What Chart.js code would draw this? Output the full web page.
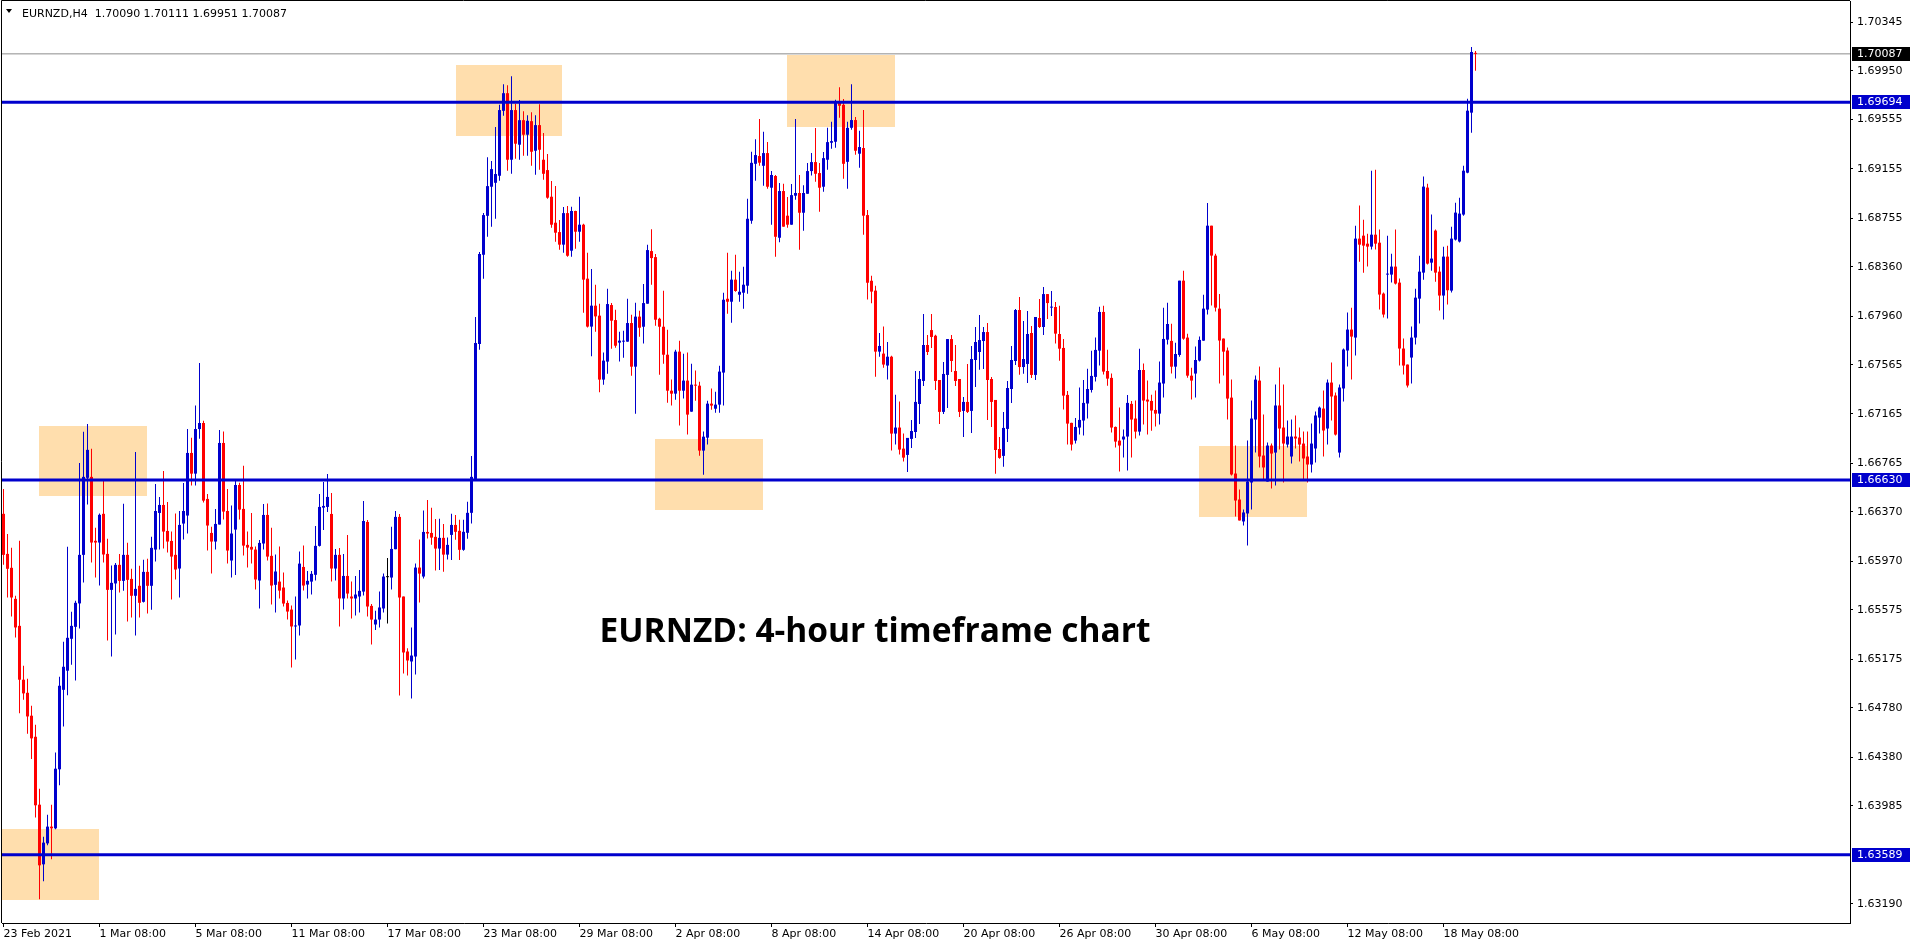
<!DOCTYPE html>
<html><head><meta charset="utf-8">
<script src="https://cdn.jsdelivr.net/npm/chart.js"></script>
<style>html,body{margin:0;padding:0;background:#fff;overflow:hidden}canvas{display:block}</style>
</head><body><canvas id="c" width="1916" height="946"></canvas>
<script>
const symbolTitle = 'EURNZD,H4';
const headerValues = ['1.70090','1.70111','1.69951','1.70087'];
const chartCaption = 'EURNZD: 4-hour timeframe chart';

const xTickIndex = [0,24,48,72,96,120,144,168,192,216,240,264,288,312,336,360];
const xTickLabels = ['23 Feb 2021','1 Mar 08:00','5 Mar 08:00','11 Mar 08:00','17 Mar 08:00','23 Mar 08:00','29 Mar 08:00','2 Apr 08:00','8 Apr 08:00','14 Apr 08:00','20 Apr 08:00','26 Apr 08:00','30 Apr 08:00','6 May 08:00','12 May 08:00','18 May 08:00'];
const yTickValues = [1.70345,1.69950,1.69555,1.69155,1.68755,1.68360,1.67960,1.67565,1.67165,1.66765,1.66370,1.65970,1.65575,1.65175,1.64780,1.64380,1.63985,1.63190];

const open = [
1.66355,1.66030,1.65917,1.65665,1.65446,1.65009,1.64903,1.64717,1.64546,1.63995,
1.63511,1.63681,1.63817,1.63803,1.64282,1.64927,1.65082,1.65341,1.65438,1.65628,
1.66022,1.66647,1.66655,1.66136,1.66122,1.66355,1.66030,1.65738,1.65790,1.65941,
1.65811,1.66022,1.65827,1.65690,1.65771,1.65641,1.65884,1.65771,1.66065,1.66362,
1.66427,1.66216,1.66135,1.66022,1.65911,1.66276,1.66341,1.66849,1.66681,1.67043,
1.67092,1.66476,1.66200,1.66130,1.66268,1.66930,1.66378,1.65976,1.66227,1.66589,
1.66395,1.66103,1.66087,1.66065,1.65814,1.66114,1.66346,1.66014,1.65779,1.65805,
1.65757,1.65632,1.65578,1.65441,1.65449,1.65924,1.65781,1.65805,1.65860,1.66095,
1.66405,1.66411,1.66354,1.65911,1.66022,1.65668,1.65851,1.65684,1.65668,1.65684,
1.65724,1.66289,1.65608,1.65457,1.65497,1.65587,1.65841,1.65838,1.66068,1.66330,
1.65684,1.65238,1.65157,1.65197,1.65919,1.65846,1.66208,1.66200,1.66168,1.66073,
1.66160,1.66024,1.66184,1.66265,1.66217,1.66063,1.66201,1.66363,1.66638,1.67733,
1.68457,1.68773,1.69009,1.69041,1.69098,1.69625,1.69768,1.69228,1.69631,1.69350,
1.69549,1.69431,1.69541,1.69301,1.69509,1.69228,1.69144,1.68928,1.68717,1.68641,
1.68539,1.68795,1.68490,1.68812,1.68644,1.68701,1.68263,1.67874,1.68044,1.67963,
1.67444,1.67590,1.68049,1.67927,1.67744,1.67752,1.67752,1.67903,1.67549,1.67955,
1.67873,1.68060,1.68487,1.68438,1.67938,1.67873,1.67646,1.67354,1.67330,1.67671,
1.67354,1.67436,1.67184,1.67403,1.67395,1.66868,1.66973,1.67249,1.67208,1.67241,
1.67501,1.68100,1.68076,1.68255,1.68133,1.68149,1.68206,1.68733,1.69195,1.69258,
1.69179,1.69282,1.69001,1.69096,1.68595,1.68974,1.68774,1.68701,1.68936,1.68958,
1.68798,1.68952,1.69136,1.69209,1.69120,1.69009,1.69228,1.69366,1.69374,1.69704,
1.69674,1.69211,1.69487,1.69550,1.69277,1.69323,1.68779,1.68246,1.68166,1.67671,
1.67655,1.67558,1.67630,1.67006,1.67055,1.66884,1.66833,1.66963,1.67019,1.67246,
1.67433,1.67725,1.67846,1.67800,1.67441,1.67182,1.67482,1.67773,1.67514,1.67449,
1.67190,1.67263,1.67190,1.67603,1.67668,1.67757,1.67830,1.67449,1.67279,1.66881,
1.66825,1.67044,1.67368,1.67595,1.68009,1.67546,1.67571,1.67822,1.67482,1.67944,
1.67871,1.68138,1.68028,1.68033,1.67814,1.67701,1.67320,1.67093,1.66949,1.67055,
1.67112,1.67250,1.67360,1.67466,1.67679,1.67993,1.67514,1.67458,1.67060,1.66949,
1.66958,1.66982,1.67247,1.67128,1.67022,1.67522,1.67282,1.67271,1.67198,1.67168,
1.67412,1.67768,1.67758,1.67549,1.67644,1.68247,1.67785,1.67476,1.67493,1.67598,
1.67760,1.68012,1.68693,1.68450,1.68020,1.67777,1.67680,1.67298,1.66682,1.66471,
1.66293,1.66358,1.66609,1.67120,1.67436,1.66828,1.66617,1.66909,1.66852,1.67234,
1.67055,1.66917,1.66820,1.66982,1.66974,1.66925,1.66820,1.66755,1.66885,1.67136,
1.67209,1.67047,1.67420,1.67315,1.66852,1.67372,1.67680,1.67850,1.67785,1.68588,
1.68612,1.68547,1.68523,1.68620,1.68555,1.68142,1.68296,1.68296,1.68361,1.68231,
1.67696,1.67566,1.67623,1.67785,1.68101,1.68312,1.69002,1.68393,1.68653,1.68320,
1.68126,1.68442,1.68166,1.68580,1.68564,1.68783,1.69123,1.69610,1.70090
];
const high = [
1.66557,1.66192,1.66079,1.65690,1.66136,1.65122,1.65017,1.64798,1.64644,1.64125,
1.63735,1.63914,1.63995,1.64419,1.65033,1.65317,1.66087,1.65560,1.65649,1.66768,
1.67020,1.67084,1.66882,1.66241,1.66357,1.66625,1.66152,1.65936,1.65957,1.66030,
1.66436,1.66120,1.65909,1.66857,1.65933,1.65982,1.65990,1.66168,1.66597,1.66492,
1.66703,1.66451,1.66211,1.66357,1.66378,1.66606,1.67043,1.66973,1.67233,1.67579,
1.67111,1.66516,1.66251,1.66395,1.67035,1.67022,1.66557,1.66422,1.66624,1.66608,
1.66746,1.66211,1.66362,1.66089,1.66143,1.66435,1.66438,1.66243,1.66024,1.66089,
1.65878,1.65651,1.65611,1.65684,1.66049,1.66097,1.65892,1.65892,1.66257,1.66516,
1.66614,1.66678,1.66524,1.66070,1.66078,1.66030,1.66184,1.65805,1.65851,1.65900,
1.66460,1.66305,1.65624,1.65568,1.65724,1.65870,1.65997,1.66251,1.66378,1.66354,
1.65684,1.65265,1.65432,1.65951,1.66146,1.66381,1.66468,1.66405,1.66314,1.66316,
1.66273,1.66162,1.66355,1.66346,1.66306,1.66306,1.66452,1.66825,1.67952,1.68479,
1.68795,1.69249,1.69217,1.69493,1.69674,1.69841,1.69833,1.69906,1.69682,1.69712,
1.69622,1.69590,1.69614,1.69590,1.69679,1.69444,1.69274,1.69055,1.69014,1.68739,
1.68844,1.68852,1.68847,1.68814,1.68928,1.68709,1.68474,1.68341,1.68214,1.68060,
1.67663,1.68182,1.68065,1.68011,1.67833,1.67841,1.68100,1.67971,1.68068,1.68003,
1.68219,1.68538,1.68665,1.68463,1.67946,1.68165,1.67849,1.67444,1.67687,1.67760,
1.67654,1.67663,1.67573,1.67517,1.67427,1.67022,1.67273,1.67371,1.67346,1.67557,
1.68149,1.68473,1.68328,1.68457,1.68319,1.68360,1.68911,1.69293,1.69395,1.69558,
1.69455,1.69371,1.69136,1.69104,1.69039,1.69033,1.68925,1.69031,1.69558,1.69104,
1.69022,1.69201,1.69282,1.69485,1.69201,1.69290,1.69487,1.69536,1.69714,1.69817,
1.69720,1.69536,1.69841,1.69574,1.69463,1.69631,1.68820,1.68287,1.68206,1.67822,
1.67874,1.67749,1.67638,1.67322,1.67266,1.67006,1.66971,1.67117,1.67514,1.67514,
1.67976,1.67806,1.67976,1.67809,1.67441,1.67587,1.67773,1.67806,1.67725,1.67449,
1.67303,1.67571,1.67717,1.67871,1.67968,1.67871,1.67903,1.67465,1.67279,1.66979,
1.67182,1.67433,1.67717,1.68017,1.68114,1.67919,1.68001,1.67879,1.67952,1.68098,
1.68195,1.68138,1.68163,1.68074,1.68044,1.67774,1.67352,1.67093,1.67133,1.67379,
1.67441,1.67533,1.67679,1.67785,1.68036,1.68044,1.67687,1.67493,1.67063,1.67217,
1.67039,1.67320,1.67271,1.67274,1.67695,1.67574,1.67436,1.67322,1.67355,1.67590,
1.68028,1.68068,1.67898,1.67744,1.68247,1.68328,1.67817,1.67541,1.67712,1.67793,
1.68133,1.68877,1.68693,1.68466,1.68139,1.67777,1.67704,1.67444,1.66909,1.66552,
1.66390,1.66950,1.67274,1.67477,1.67550,1.67161,1.66934,1.66925,1.67404,1.67542,
1.67404,1.67112,1.67120,1.67153,1.67055,1.67023,1.67023,1.67088,1.67185,1.67225,
1.67355,1.67444,1.67582,1.67339,1.67404,1.67696,1.67988,1.68028,1.68693,1.68856,
1.68742,1.68628,1.69139,1.69147,1.68661,1.68150,1.68612,1.68466,1.68661,1.68264,
1.67777,1.67566,1.67874,1.68182,1.68450,1.69091,1.69034,1.68783,1.68661,1.68361,
1.68523,1.68531,1.68685,1.68880,1.68920,1.69180,1.69723,1.70142,1.70111
];
const low = [
1.65941,1.65676,1.65522,1.65352,1.64736,1.64846,1.64571,1.64365,1.63892,1.63227,
1.63373,1.63665,1.63552,1.63795,1.64152,1.64630,1.64882,1.65130,1.65003,1.65425,
1.65798,1.66430,1.65960,1.65838,1.65774,1.65960,1.65328,1.65198,1.65376,1.65717,
1.65730,1.65482,1.65514,1.65368,1.65514,1.65636,1.65546,1.65576,1.65968,1.66065,
1.66073,1.66041,1.65659,1.65822,1.65676,1.66146,1.66195,1.66584,1.66584,1.66965,
1.66446,1.66057,1.65870,1.66065,1.66268,1.66308,1.65951,1.65838,1.65859,1.66308,
1.66016,1.65919,1.65951,1.65741,1.65586,1.66065,1.65976,1.65619,1.65554,1.65668,
1.65603,1.65497,1.65108,1.65173,1.65368,1.65732,1.65668,1.65700,1.65814,1.66090,
1.66224,1.66370,1.65805,1.65814,1.65440,1.65578,1.65668,1.65505,1.65530,1.65554,
1.65692,1.65522,1.65295,1.65413,1.65432,1.65554,1.65465,1.65741,1.66068,1.64881,
1.65059,1.65043,1.64857,1.65051,1.65635,1.65830,1.66154,1.66105,1.65895,1.65900,
1.65886,1.65984,1.65981,1.66144,1.65981,1.66055,1.66152,1.66276,1.66638,1.67687,
1.68263,1.68603,1.68684,1.68749,1.69057,1.69585,1.69139,1.69114,1.69236,1.69228,
1.69260,1.69260,1.69179,1.69106,1.69147,1.69066,1.68912,1.68676,1.68563,1.68498,
1.68474,1.68441,1.68441,1.68506,1.68563,1.67987,1.67866,1.67633,1.67833,1.67341,
1.67403,1.67492,1.67695,1.67703,1.67590,1.67622,1.67752,1.67476,1.67168,1.67792,
1.67736,1.68060,1.68214,1.67882,1.67484,1.67573,1.67257,1.67233,1.67281,1.67071,
1.67290,1.66998,1.67184,1.67273,1.66827,1.66673,1.66917,1.67200,1.67176,1.67176,
1.67233,1.67979,1.67906,1.68157,1.68076,1.68019,1.68141,1.68709,1.69058,1.69179,
1.69017,1.68993,1.68701,1.68441,1.68558,1.68685,1.68677,1.68701,1.68904,1.68498,
1.68652,1.68952,1.69100,1.69049,1.68806,1.68968,1.69147,1.69317,1.69325,1.69568,
1.69074,1.68993,1.69471,1.69268,1.69163,1.68620,1.68093,1.68063,1.67468,1.67630,
1.67541,1.67444,1.66868,1.66917,1.66836,1.66779,1.66695,1.66890,1.66971,1.67084,
1.67392,1.67644,1.67701,1.67360,1.67084,1.67165,1.67214,1.67506,1.67392,1.67141,
1.66979,1.67174,1.67011,1.67384,1.67525,1.67530,1.67117,1.67060,1.66681,1.66801,
1.66736,1.66938,1.67255,1.67563,1.67484,1.67492,1.67417,1.67457,1.67441,1.67863,
1.67806,1.67936,1.67960,1.67736,1.67598,1.67201,1.66917,1.66868,1.66925,1.66998,
1.66990,1.67128,1.67339,1.67428,1.67558,1.67485,1.67395,1.67014,1.66893,1.66698,
1.66811,1.66706,1.66811,1.66966,1.66990,1.67079,1.66998,1.67030,1.67063,1.67079,
1.67298,1.67728,1.67493,1.67452,1.67630,1.67768,1.67460,1.67282,1.67298,1.67590,
1.67760,1.67972,1.68045,1.67996,1.67412,1.67477,1.67120,1.66666,1.66334,1.66301,
1.66261,1.66098,1.66390,1.66852,1.66731,1.66634,1.66617,1.66561,1.66585,1.66877,
1.66609,1.66893,1.66763,1.66885,1.66780,1.66634,1.66609,1.66690,1.66771,1.67007,
1.66820,1.66917,1.67112,1.66990,1.66812,1.67266,1.67550,1.67444,1.67639,1.68401,
1.68312,1.68361,1.68499,1.68499,1.68012,1.67947,1.67939,1.68231,1.68215,1.67558,
1.67485,1.67380,1.67412,1.67728,1.67899,1.68255,1.68377,1.68328,1.68239,1.68004,
1.67931,1.68053,1.68150,1.68572,1.68556,1.68774,1.69118,1.69447,1.69951
];
const close = [
1.66022,1.65909,1.65676,1.65433,1.65009,1.64898,1.64711,1.64533,1.63990,1.63503,
1.63687,1.63817,1.63803,1.64287,1.64960,1.65114,1.65349,1.65446,1.65633,1.66022,
1.66655,1.66874,1.66122,1.66122,1.66347,1.66025,1.65738,1.65795,1.65941,1.65811,
1.66022,1.65819,1.65690,1.65746,1.65633,1.65884,1.65771,1.66079,1.66378,1.66427,
1.66211,1.66130,1.66008,1.65903,1.66265,1.66378,1.66849,1.66681,1.67043,1.67092,
1.66462,1.66260,1.66130,1.66273,1.66930,1.66373,1.66057,1.66195,1.66589,1.66389,
1.66097,1.66081,1.66065,1.65822,1.66119,1.66346,1.66008,1.65773,1.65887,1.65732,
1.65627,1.65562,1.65441,1.65449,1.65951,1.65773,1.65811,1.65868,1.66095,1.66411,
1.66419,1.66492,1.65911,1.66022,1.65668,1.65851,1.65708,1.65668,1.65700,1.65730,
1.66297,1.65603,1.65497,1.65497,1.65595,1.65846,1.65841,1.66070,1.66330,1.65676,
1.65230,1.65165,1.65205,1.65919,1.65870,1.66208,1.66195,1.66162,1.66073,1.66160,
1.66024,1.66103,1.66265,1.66209,1.66063,1.66209,1.66363,1.66655,1.67741,1.68463,
1.68779,1.69014,1.69152,1.69112,1.69631,1.69768,1.69228,1.69631,1.69358,1.69549,
1.69431,1.69544,1.69293,1.69509,1.69309,1.69114,1.68920,1.68701,1.68636,1.68539,
1.68795,1.68449,1.68812,1.68644,1.68701,1.68255,1.67874,1.68044,1.67957,1.67444,
1.67598,1.68057,1.67922,1.67719,1.67760,1.67760,1.67903,1.67549,1.67955,1.67865,
1.68065,1.68495,1.68430,1.67930,1.67873,1.67646,1.67354,1.67330,1.67671,1.67354,
1.67436,1.67160,1.67403,1.67395,1.66868,1.66981,1.67249,1.67233,1.67241,1.67509,
1.68092,1.68076,1.68255,1.68163,1.68157,1.68214,1.68749,1.69203,1.69266,1.69204,
1.69282,1.69009,1.69104,1.68603,1.68974,1.68685,1.68701,1.68941,1.68958,1.68798,
1.68958,1.69136,1.69209,1.69114,1.69001,1.69241,1.69371,1.69379,1.69704,1.69666,
1.69195,1.69487,1.69550,1.69301,1.69331,1.68774,1.68230,1.68158,1.67671,1.67717,
1.67566,1.67630,1.67006,1.67055,1.66876,1.66811,1.66971,1.67027,1.67263,1.67449,
1.67725,1.67668,1.67790,1.67433,1.67182,1.67490,1.67773,1.67595,1.67433,1.67182,
1.67263,1.67182,1.67611,1.67749,1.67765,1.67830,1.67441,1.67263,1.66873,1.66809,
1.67052,1.67376,1.67603,1.68009,1.67546,1.67611,1.67814,1.67482,1.67952,1.67871,
1.68138,1.68065,1.68033,1.67817,1.67695,1.67314,1.67087,1.66917,1.67060,1.67117,
1.67255,1.67368,1.67474,1.67685,1.67993,1.67509,1.67452,1.67055,1.66941,1.66909,
1.66982,1.67255,1.67120,1.67022,1.67522,1.67274,1.67266,1.67193,1.67168,1.67420,
1.67774,1.67895,1.67549,1.67652,1.68247,1.67776,1.67476,1.67436,1.67603,1.67766,
1.68020,1.68693,1.68450,1.68028,1.67761,1.67671,1.67290,1.66674,1.66463,1.66301,
1.66366,1.66617,1.67128,1.67444,1.66820,1.66731,1.66909,1.66844,1.67234,1.67047,
1.66925,1.66982,1.66982,1.66966,1.66917,1.66804,1.66755,1.66925,1.67153,1.67217,
1.67031,1.67420,1.67307,1.66998,1.67380,1.67688,1.67850,1.67793,1.68588,1.68539,
1.68531,1.68523,1.68620,1.68547,1.68134,1.67972,1.68304,1.68361,1.68223,1.67696,
1.67558,1.67396,1.67785,1.68109,1.68320,1.69010,1.68385,1.68426,1.68312,1.68126,
1.68442,1.68169,1.68588,1.68799,1.68791,1.69139,1.69626,1.70102,1.70087
];

const levelPrices = [1.69694, 1.66630, 1.63589];
const currentPrice = 1.70087;
// highlighted zones: bar-index range and price range
const zoneStart = [8.9, -0.4, 113.1, 195.9, 162.9, 298.9];
const zoneEnd   = [35.9, 23.9, 139.6, 222.9, 189.9, 325.9];
const zoneHigh  = [1.67068, 1.63800, 1.69996, 1.70077, 1.66963, 1.66906];
const zoneLow   = [1.66500, 1.63224, 1.69420, 1.69493, 1.66387, 1.66330];

const X_MIN = -0.375, X_MAX = 461.625;
const Y_MIN = 1.63035, Y_MAX = 1.70516;
const BLUE = '#0000CD', RED = '#FF0000';
const AXIS_FONT = {family: '"DejaVu Sans"', size: 11};

function candleColor(i) {
  if (close[i] > open[i]) return BLUE;
  if (close[i] < open[i]) return RED;
  return '#000000';
}

const bodyData = open.map((o, i) => ({x: i, y: [o, close[i]]}));
const wickData = open.map((o, i) => ({x: i, y: [low[i], high[i]]}));

const levelDatasets = levelPrices.map(p => ({
  type: 'line', data: [{x: X_MIN, y: p}, {x: X_MAX, y: p}],
  borderColor: BLUE, borderWidth: 3, pointRadius: 0, order: 0
}));

const deco = {
  id: 'deco',
  beforeDatasetsDraw(chart) {
    const {ctx, chartArea: a} = chart;
    const xs = chart.scales.x, ys = chart.scales.y;
    ctx.save();
    ctx.beginPath(); ctx.rect(a.left, a.top, a.right - a.left, a.bottom - a.top); ctx.clip();
    ctx.fillStyle = '#FFDEAD';
    for (let k = 0; k < zoneStart.length; k++) {
      const x0 = Math.round(xs.getPixelForValue(zoneStart[k]));
      const x1 = Math.round(xs.getPixelForValue(zoneEnd[k]));
      const y0 = Math.round(ys.getPixelForValue(zoneHigh[k]));
      const y1 = Math.round(ys.getPixelForValue(zoneLow[k]));
      ctx.fillRect(x0, y0, x1 - x0, y1 - y0);
    }
    ctx.restore();
  },
  afterDraw(chart) {
    const {ctx, chartArea: a} = chart;
    const ys = chart.scales.y;
    ctx.save();
    ctx.strokeStyle = '#000'; ctx.lineWidth = 1;
    ctx.beginPath();
    ctx.moveTo(a.left - 0.5, a.bottom); ctx.lineTo(a.left - 0.5, 0.5); ctx.lineTo(a.right, 0.5);
    ctx.stroke();
    ctx.font = '11px "DejaVu Sans"';
    ctx.textBaseline = 'middle'; ctx.textAlign = 'left';
    const tag = (p, bg) => {
      const y = Math.round(ys.getPixelForValue(p));
      ctx.fillStyle = bg;
      ctx.fillRect(a.right + 2, y - 7, 58, 14);
      ctx.fillStyle = '#fff';
      ctx.fillText(p.toFixed(5), a.right + 7, y + 0.5);
    };
    tag(currentPrice, '#000');
    levelPrices.forEach(p => tag(p, BLUE));
    ctx.fillStyle = '#000';
    ctx.beginPath(); ctx.moveTo(6, 9); ctx.lineTo(12, 9); ctx.lineTo(9, 13); ctx.closePath(); ctx.fill();
    ctx.textBaseline = 'alphabetic';
    ctx.fillText(symbolTitle + '  ' + headerValues.join(' '), 22, 17);
    ctx.font = 'bold 33.5px "Open Sans"';
    ctx.textAlign = 'center'; ctx.textBaseline = 'middle';
    ctx.fillText(chartCaption, 875, 632);
    ctx.restore();
  }
};

new Chart(document.getElementById('c'), {
  type: 'bar',
  data: {
    datasets: [
      ...levelDatasets,
      {type: 'line', data: [{x: X_MIN, y: currentPrice}, {x: X_MAX, y: currentPrice}],
       borderColor: '#8C8C8C', borderWidth: 1, pointRadius: 0, order: 3},
      {type: 'bar', data: bodyData, backgroundColor: c => candleColor(c.dataIndex),
       barThickness: 3, grouped: false, minBarLength: 1, borderWidth: 0, inflateAmount: 0, order: 1},
      {type: 'bar', data: wickData, backgroundColor: c => candleColor(c.dataIndex),
       barThickness: 1, grouped: false, borderWidth: 0, inflateAmount: 0, order: 2}
    ]
  },
  options: {
    responsive: false, animation: false, devicePixelRatio: 1,
    layout: {padding: {left: 2, top: 1, right: 0, bottom: 0}},
    plugins: {legend: {display: false}, tooltip: {enabled: false}},
    scales: {
      x: {
        type: 'linear', min: X_MIN, max: X_MAX, offset: false,
        grid: {drawOnChartArea: false, drawTicks: true, tickLength: 4, tickColor: '#000', offset: false},
        border: {display: true, color: '#000', width: 1},
        ticks: {autoSkip: false, maxRotation: 0, minRotation: 0, align: 'start', padding: 1,
                color: '#000', font: AXIS_FONT, callback: (v, i) => xTickLabels[i]},
        afterBuildTicks: s => { s.ticks = xTickIndex.map(v => ({value: v})); },
        afterFit: s => { s.height = 23; s.paddingLeft = 0; s.paddingRight = 0; }
      },
      y: {
        type: 'linear', position: 'right', min: Y_MIN, max: Y_MAX,
        grid: {drawOnChartArea: false, drawTicks: true, tickLength: 3, tickColor: '#000'},
        border: {display: true, color: '#000', width: 1},
        ticks: {autoSkip: false, padding: 4, color: '#000', font: AXIS_FONT,
                callback: v => Number(v).toFixed(5)},
        afterBuildTicks: s => { s.ticks = yTickValues.map(v => ({value: v})); },
        afterFit: s => { s.width = 66; s.paddingTop = 0; s.paddingBottom = 0; }
      }
    }
  },
  plugins: [deco]
});
</script>
</body></html>
